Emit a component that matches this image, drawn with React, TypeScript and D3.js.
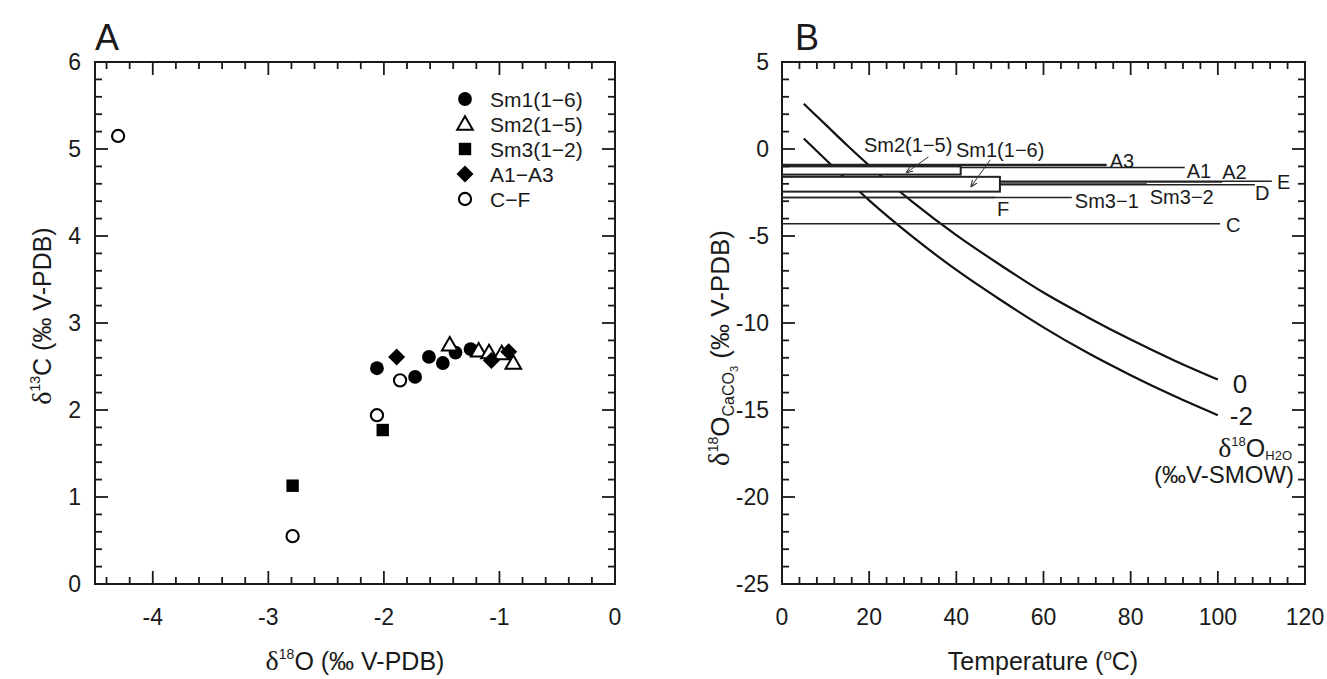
import React from "react";
import * as d3 from "d3";

// ---------- Panel A data (δ18O, δ13C) ----------
const sm1Points: [number, number][] = [
  [-2.06, 2.48], [-1.73, 2.38], [-1.61, 2.61], [-1.49, 2.54], [-1.38, 2.66], [-1.25, 2.7],
];
const sm2Points: [number, number][] = [
  [-1.43, 2.75], [-1.18, 2.68], [-1.09, 2.66], [-0.98, 2.65], [-0.88, 2.54],
];
const sm3Points: [number, number][] = [[-2.79, 1.13], [-2.01, 1.77]];
const aPoints: [number, number][] = [[-1.89, 2.61], [-1.07, 2.57], [-0.92, 2.67]];
const cfPoints: [number, number][] = [[-4.3, 5.15], [-2.79, 0.55], [-2.06, 1.94], [-1.86, 2.34]];
const legendLabels = ["Sm1(1\u22126)", "Sm2(1\u22125)", "Sm3(1\u22122)", "A1\u2212A3", "C\u2212F"];
const xTicksA = [-4, -3, -2, -1, 0];
const yTicksA = [0, 1, 2, 3, 4, 5, 6];

// ---------- Panel B data ----------
const sampleNames = ["A3", "A1", "A2", "E", "D", "Sm3\u22122", "Sm3\u22121", "F", "C"];
const sampleValues = [-0.92, -1.07, -1.89, -1.86, -2.06, -2.01, -2.79, -2.79, -4.3];
const sampleEndT = [74.5, 92.4, 101, 112.4, 108.5, 83.7, 66.5, 48.9, 100.5];
const boxNames = ["Sm2(1\u22125)", "Sm1(1\u22126)"];
const boxTop = [-1.0, -1.6];
const boxBottom = [-1.47, -2.45];
const boxEndT = [41, 50];
const curveTemps = [5, 10, 15, 20, 30, 40, 50, 60, 70, 80, 90, 100];
const water0 = [2.6, 1.4, 0.2, -0.95, -3.05, -4.95, -6.65, -8.25, -9.65, -10.95, -12.15, -13.25];
const waterM2 = [0.6, -0.6, -1.8, -2.95, -5.05, -6.95, -8.65, -10.25, -11.7, -13.0, -14.2, -15.3];
const curveLabels = ["0", "-2"];
const xTicksB = [0, 20, 40, 60, 80, 100, 120];
const yTicksB = [5, 0, -5, -10, -15, -20, -25];

// ---------- layout (label offsets in px) ----------
const sampleLabelOffsets: [number, number][] = [
  [3, 3], [2, 10], [0, -3], [5, 8], [0, 15], [3, 20], [3, 10], [2, 18], [6, 8],
];
const SANS = "'Liberation Sans', Arial, Helvetica, sans-serif";
const SERIF = "'Liberation Serif', 'Times New Roman', serif";
const INK = "#1a1a1a";

function range(a: number, b: number, step: number) {
  const out: number[] = [];
  const n = Math.round((b - a) / step);
  for (let i = 0; i <= n; i++) out.push(+(a + i * step).toFixed(6));
  return out;
}

function Frame({ x, y, minorX, majorX, minorY, majorY }: any) {
  const [x0, x1] = x.range();
  const [y0, y1] = y.range(); // y0 bottom, y1 top
  const lines: any[] = [];
  const MJ = 13, MN = 7;
  minorX.forEach((v: number, i: number) => {
    const px = x(v);
    const len = majorX.some((m: number) => Math.abs(m - v) < 1e-6) ? MJ : MN;
    lines.push(<line key={"bx" + i} x1={px} x2={px} y1={y0} y2={y0 - len} />);
    lines.push(<line key={"tx" + i} x1={px} x2={px} y1={y1} y2={y1 + len} />);
  });
  minorY.forEach((v: number, i: number) => {
    const py = y(v);
    const len = majorY.some((m: number) => Math.abs(m - v) < 1e-6) ? MJ : MN;
    lines.push(<line key={"ly" + i} x1={x0} x2={x0 + len} y1={py} y2={py} />);
    lines.push(<line key={"ry" + i} x1={x1} x2={x1 - len} y1={py} y2={py} />);
  });
  return (
    <g stroke={INK} strokeWidth={1.8} fill="none">
      {lines}
      <rect x={x0} y={y1} width={x1 - x0} height={y0 - y1} strokeWidth={2} />
    </g>
  );
}

function Marker({ type, cx, cy }: { type: string; cx: number; cy: number }) {
  if (type === "circle") return <circle cx={cx} cy={cy} r={6.9} fill="#000" />;
  if (type === "open") return <circle cx={cx} cy={cy} r={6.1} fill="#fff" stroke="#000" strokeWidth={2.1} />;
  if (type === "square") return <rect x={cx - 6.2} y={cy - 6.2} width={12.4} height={12.4} fill="#000" />;
  if (type === "diamond")
    return <path d={`M${cx},${cy - 8.5}L${cx + 8.5},${cy}L${cx},${cy + 8.5}L${cx - 8.5},${cy}Z`} fill="#000" />;
  return (
    <path
      d={`M${cx},${cy - 7.8}L${cx + 7.8},${cy + 5.7}L${cx - 7.8},${cy + 5.7}Z`}
      fill="#fff"
      stroke="#000"
      strokeWidth={2}
    />
  );
}

export default function App() {
  const xA = d3.scaleLinear().domain([-4.5, 0]).range([95, 615]);
  const yA = d3.scaleLinear().domain([0, 6]).range([584, 62]);
  const xB = d3.scaleLinear().domain([0, 120]).range([782, 1305]);
  const yB = d3.scaleLinear().domain([-25, 5]).range([584, 62]);

  const series = [
    { pts: sm1Points, type: "circle" },
    { pts: sm2Points, type: "triangle" },
    { pts: sm3Points, type: "square" },
    { pts: aPoints, type: "diamond" },
    { pts: cfPoints, type: "open" },
  ];
  const legendTypes = ["circle", "triangle", "square", "diamond", "open"];

  const line = d3
    .line<[number, number]>()
    .x((d) => xB(d[0]))
    .y((d) => yB(d[1]))
    .curve(d3.curveMonotoneX);
  const curves = [water0, waterM2].map((vals) => curveTemps.map((t, i) => [t, vals[i]] as [number, number]));

  const arrows = [
    { from: [33.6, -0.45], to: [28.6, -1.35] },
    { from: [47.8, -0.62], to: [43.4, -2.15] },
  ];

  const tickFont = 23;
  const titleFont = 25;

  return (
    <svg width={1327} height={679} style={{ display: "block", position: "absolute", left: 0, top: 0, background: "#fff" }}>
      <defs>
        <marker id="ah" viewBox="0 0 10 10" refX="9" refY="5" markerWidth="7" markerHeight="7" orient="auto">
          <path d="M0,1L10,5L0,9" fill="none" stroke="#333" strokeWidth={1.5} />
        </marker>
      </defs>
      <rect width={1327} height={679} fill="#fff" />

      {/* ---------------- Panel A ---------------- */}
      <text x={95} y={50} fontFamily={SANS} fontSize={36} fill={INK}>A</text>
      <Frame
        x={xA}
        y={yA}
        minorX={range(-4.4, 0, 0.2)}
        majorX={xTicksA}
        minorY={range(0, 6, 0.2)}
        majorY={yTicksA}
      />
      {xTicksA.map((t) => (
        <text key={t} x={xA(t)} y={625} textAnchor="middle" fontFamily={SANS} fontSize={tickFont} fill={INK}>
          {t === 0 ? "0" : "-" + Math.abs(t)}
        </text>
      ))}
      {yTicksA.map((t) => (
        <text key={t} x={81} y={yA(t) + 8} textAnchor="end" fontFamily={SANS} fontSize={tickFont} fill={INK}>
          {t}
        </text>
      ))}
      <text x={355} y={670} textAnchor="middle" fontFamily={SANS} fontSize={titleFont} fill={INK}>
        <tspan fontFamily={SERIF} fontSize={28}>δ</tspan>
        <tspan fontSize={14} dy={-11}>18</tspan>
        <tspan dy={11}>O (‰ V-PDB)</tspan>
      </text>
      <text transform={`translate(51,316) rotate(-90)`} textAnchor="middle" fontFamily={SANS} fontSize={titleFont} fill={INK}>
        <tspan fontFamily={SERIF} fontSize={28}>δ</tspan>
        <tspan fontSize={14} dy={-11}>13</tspan>
        <tspan dy={11}>C (‰ V-PDB)</tspan>
      </text>
      {series.map((s, si) =>
        s.pts.map((p, i) => <Marker key={si + "-" + i} type={s.type} cx={xA(p[0])} cy={yA(p[1])} />)
      )}
      {legendLabels.map((lab, i) => (
        <g key={lab}>
          <Marker type={legendTypes[i]} cx={465} cy={99 + i * 25} />
          <text x={490} y={99 + i * 25 + 7.5} fontFamily={SANS} fontSize={21} fill={INK}>
            {lab}
          </text>
        </g>
      ))}

      {/* ---------------- Panel B ---------------- */}
      <text x={795} y={50} fontFamily={SANS} fontSize={36} fill={INK}>B</text>
      {curves.map((c, i) => (
        <path key={i} d={line(c) || ""} fill="none" stroke="#111" strokeWidth={2.2} />
      ))}
      {sampleNames.map((n, i) => (
        <line
          key={n + i}
          x1={xB(0)}
          x2={xB(sampleEndT[i])}
          y1={yB(sampleValues[i])}
          y2={yB(sampleValues[i])}
          stroke="#222"
          strokeWidth={i === 0 ? 2.6 : 1.5}
        />
      ))}
      {boxNames.map((n, i) => (
        <rect
          key={n}
          x={xB(0)}
          y={yB(boxTop[i])}
          width={xB(boxEndT[i]) - xB(0)}
          height={yB(boxBottom[i]) - yB(boxTop[i])}
          fill="#fff"
          stroke="#222"
          strokeWidth={2}
        />
      ))}
      <Frame
        x={xB}
        y={yB}
        minorX={range(4, 116, 4)}
        majorX={xTicksB}
        minorY={range(-25, 5, 1)}
        majorY={yTicksB}
      />
      {sampleNames.map((n, i) => (
        <text
          key={"l" + n + i}
          x={xB(sampleEndT[i]) + sampleLabelOffsets[i][0]}
          y={yB(sampleValues[i]) + sampleLabelOffsets[i][1]}
          fontFamily={SANS}
          fontSize={20}
          fill={INK}
        >
          {n}
        </text>
      ))}
      <text x={864} y={152} fontFamily={SANS} fontSize={20} fill={INK}>{boxNames[0]}</text>
      <text x={956} y={157} fontFamily={SANS} fontSize={20} fill={INK}>{boxNames[1]}</text>
      {arrows.map((a, i) => (
        <line
          key={"a" + i}
          x1={xB(a.from[0])}
          y1={yB(a.from[1])}
          x2={xB(a.to[0])}
          y2={yB(a.to[1])}
          stroke="#333"
          strokeWidth={1}
          markerEnd="url(#ah)"
        />
      ))}
      {curveLabels.map((lab, i) => (
        <text
          key={lab}
          x={xB(100) + (i === 0 ? 15 : 12)}
          y={yB(i === 0 ? water0[water0.length - 1] : waterM2[waterM2.length - 1]) + (i === 0 ? 13 : 10)}
          fontFamily={SANS}
          fontSize={26}
          fill={INK}
        >
          {lab}
        </text>
      ))}
      <text x={1292} y={457} textAnchor="end" fontFamily={SANS} fontSize={25} fill={INK}>
        <tspan fontFamily={SERIF} fontSize={28}>δ</tspan>
        <tspan fontSize={13} dy={-11}>18</tspan>
        <tspan dy={11}>O</tspan>
        <tspan fontSize={13} dy={3}>H2O</tspan>
      </text>
      <text x={1294} y={483} textAnchor="end" fontFamily={SANS} fontSize={24} fill={INK}>
        (‰V-SMOW)
      </text>
      {xTicksB.map((t) => (
        <text key={t} x={xB(t)} y={625} textAnchor="middle" fontFamily={SANS} fontSize={tickFont} fill={INK}>
          {t}
        </text>
      ))}
      {yTicksB.map((t) => (
        <text key={t} x={769} y={yB(t) + 8} textAnchor="end" fontFamily={SANS} fontSize={tickFont} fill={INK}>
          {t}
        </text>
      ))}
      <text x={1043} y={670} textAnchor="middle" fontFamily={SANS} fontSize={titleFont} fill={INK}>
        Temperature (<tspan fontSize={15} dy={-10}>o</tspan>
        <tspan dy={10}>C)</tspan>
      </text>
      <text transform={`translate(729,348) rotate(-90)`} textAnchor="middle" fontFamily={SANS} fontSize={26} fill={INK}>
        <tspan fontFamily={SERIF} fontSize={29}>δ</tspan>
        <tspan fontSize={14} dy={-11}>18</tspan>
        <tspan dy={11}>O</tspan>
        <tspan fontSize={16} dy={5}>CaCO</tspan>
        <tspan fontSize={11} dy={4}>3</tspan>
        <tspan dy={-9}> (‰ V-PDB)</tspan>
      </text>
    </svg>
  );
}
